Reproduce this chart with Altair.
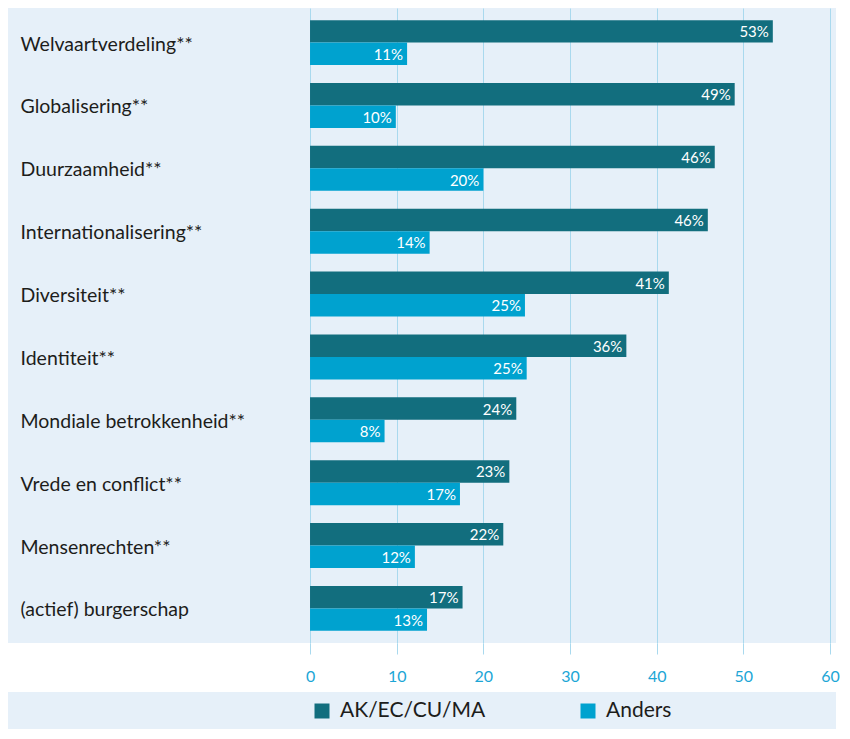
import altair as alt
import pandas as pd

categories = [
    "Welvaartverdeling**", "Globalisering**", "Duurzaamheid**",
    "Internationalisering**", "Diversiteit**", "Identiteit**",
    "Mondiale betrokkenheid**", "Vrede en conflict**", "Mensenrechten**",
    "(actief) burgerschap",
]
series = ["AK/EC/CU/MA", "Anders"]
dark_values = [53.4, 49.0, 46.7, 45.9, 41.4, 36.5, 23.8, 23.0, 22.3, 17.6]
light_values = [11.2, 9.9, 20.0, 13.8, 24.8, 25.0, 8.6, 17.3, 12.1, 13.5]
dark_labels = [53, 49, 46, 46, 41, 36, 24, 23, 22, 17]
light_labels = [11, 10, 20, 14, 25, 25, 8, 17, 12, 13]
x_ticks = [0, 10, 20, 30, 40, 50, 60]

DARK = "#126e7e"
LIGHT = "#00a2cf"
PANEL = "#e6f0f9"
GRID = "#a9d9ee"
TICKTXT = "#1ca6d6"
TEXT = "#1d1d1b"
FONT = "Lato"

rows = []
for i, c in enumerate(categories):
    rows.append(dict(cat=c, series=series[0], value=dark_values[i], label=f"{dark_labels[i]}%"))
    rows.append(dict(cat=c, series=series[1], value=light_values[i], label=f"{light_labels[i]}%"))
df = pd.DataFrame(rows)

color = alt.Color("series:N", scale=alt.Scale(domain=series, range=[DARK, LIGHT]), legend=None)

y_enc = alt.Y(
    "cat:N", sort=categories,
    scale=alt.Scale(paddingInner=0, paddingOuter=0.05),
    axis=alt.Axis(title=None, domain=False, ticks=False, grid=False,
                  labelAlign="left", labelPadding=-12, labelFontSize=19.5,
                  labelColor=TEXT, labelFont=FONT, labelLimit=400, minExtent=0,
                  labelBaseline="middle", labelOffset=2),
)
yoff = alt.YOffset("series:N", sort=series, scale=alt.Scale(paddingInner=0, paddingOuter=0.4))
x_enc = alt.X(
    "value:Q",
    scale=alt.Scale(domain=[-34.85, 60.69], nice=False, zero=False),
    axis=alt.Axis(values=x_ticks, title=None, domain=False, tickSize=11,
                  tickColor=GRID, gridColor=GRID, grid=True, labelPadding=14,
                  labelColor=TICKTXT, labelFontSize=16, labelFont=FONT, format="d"),
)

base = alt.Chart(df)
bars = base.mark_bar().encode(x=x_enc, y=y_enc, yOffset=yoff, color=color)
labels = base.mark_text(align="right", baseline="middle", dx=-4, dy=1, color="white",
                        fontSize=15, font=FONT).encode(
    x="value:Q", y=alt.Y("cat:N", sort=categories), yOffset=alt.YOffset("series:N", sort=series),
    text="label:N")

main = alt.layer(bars, labels).properties(width=828, height=635)

leg_df = pd.DataFrame({"series": series})
leg_x = alt.X("series:N", sort=series,
              scale=alt.Scale(domain=series, range=[314, 580], padding=0), axis=None)
leg_sq = alt.Chart(leg_df).mark_point(shape="square", filled=True, size=225, opacity=1).encode(
    x=leg_x, y=alt.value(19),
    color=alt.Color("series:N", scale=alt.Scale(domain=series, range=[DARK, LIGHT]), legend=None))
leg_tx = alt.Chart(leg_df).mark_text(align="left", baseline="middle", dx=18, fontSize=21,
                                     font=FONT, color=TEXT).encode(
    x=leg_x, y=alt.value(19), text="series:N")
legend = alt.layer(leg_sq, leg_tx).properties(width=828, height=37)

chart = alt.vconcat(main, legend, spacing=8).properties(padding=0).configure(
    background="white"
).configure_view(fill=PANEL, strokeWidth=0)

chart.save("out.html", embed_options={"renderer": "svg", "actions": False})
